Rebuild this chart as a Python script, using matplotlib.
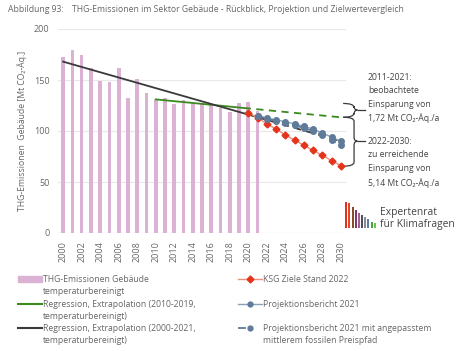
import numpy as np
import matplotlib.pyplot as plt
from matplotlib.path import Path
from matplotlib.patches import PathPatch, Rectangle
from matplotlib.lines import Line2D
import matplotlib.transforms as mtransforms

plt.rcParams['font.family'] = ['Open Sans', 'DejaVu Sans']

# data
years = np.arange(2000, 2022)
emissions = [173, 179, 175, 162, 149, 148, 162, 132, 151, 137, 130,
             132, 126, 130, 127, 127, 126, 123, 119, 127, 128, 120]

reg_green_x = [2010, 2019.5]
reg_green_y = [131, 122.6]
reg_green_ext_x = [2019.5, 2030]
reg_green_ext_y = [122.6, 113.4]

reg_black_x = [2000, 2021]
reg_black_y = [168, 113.5]
reg_black_ext_x = [2021, 2030]
reg_black_ext_y = [113.5, 90]

ksg_years = np.arange(2020, 2031)
ksg = [118, 113, 107, 102, 96, 91, 86, 81, 76, 71, 66]

proj_years = np.arange(2021, 2031)
proj = [115, 112.5, 111, 109, 107, 104.5, 102, 98, 94, 90]
proj_adj = [115, 112, 110, 108, 105.5, 103, 100, 96, 91, 86]

yticks = [0, 50, 100, 150, 200]
xticks = np.arange(2000, 2031, 2)

logo_heights = [1.0, 0.97, 0.8, 0.68, 0.58, 0.5, 0.42, 0.34, 0.24, 0.2]
logo_colors = ['#e2321f', '#e0472a', '#8a4a2c', '#7b3a6a', '#a25a9b',
               '#505050', '#7f8fa3', '#5f7f9e', '#4aa53a', '#6cc24a']

c_bar = '#dbb2d3'
c_green = '#3b8a1f'
c_black = '#3a3a3a'
c_red = '#e5341c'
c_red_line = '#f0907a'
c_blue = '#5f7b99'
c_blue_line = '#8aa0b8'
c_text = '#666666'
fs = 6.2

fig = plt.figure(figsize=(4.64, 3.51), dpi=100)
ax = fig.add_axes([58 / 464, 1 - 233 / 351, 288 / 464, 204 / 351])

ax.bar(years, emissions, width=0.4, color=c_bar, zorder=2)
ax.plot(reg_green_x, reg_green_y, color=c_green, lw=1.3, zorder=3)
ax.plot(reg_green_ext_x, reg_green_ext_y, color=c_green, lw=1.3, ls=(0, (4, 3)), zorder=3)
ax.plot(reg_black_x, reg_black_y, color=c_black, lw=1.3, zorder=3)
ax.plot(reg_black_ext_x, reg_black_ext_y, color=c_black, lw=1.3, ls=(0, (4, 3)), zorder=3)
ax.plot(ksg_years, ksg, color=c_red_line, lw=1, marker='D', ms=3.5,
        mfc=c_red, mec=c_red, zorder=4)
ax.plot(proj_years, proj, color=c_blue_line, lw=1, marker='o', ms=4,
        mfc=c_blue, mec=c_blue, zorder=4)
ax.plot(proj_years, proj_adj, color=c_blue, lw=1.3, ls=(0, (4, 3)), marker='o', ms=4,
        mfc=c_blue, mec=c_blue, zorder=4)

ax.set_xlim(1999.45, 2030.55)
ax.set_ylim(0, 200)
ax.set_yticks(yticks)
ax.set_xticks(xticks)
ax.set_xticklabels([str(x) for x in xticks], rotation=90)
ax.tick_params(colors=c_text, labelsize=fs + 0.3, length=0, pad=6)
ax.grid(axis='y', color='#e8e8e8', lw=0.8, zorder=0)
for s in ax.spines.values():
    s.set_visible(False)
ax.axhline(0, color='#e0e0e0', lw=0.8, zorder=1)
ax.set_ylabel('THG-Emissionen  Gebäude [Mt CO₂-Äq.]', color=c_text, fontsize=fs, labelpad=5)

# braces on the right
trans = mtransforms.blended_transform_factory(ax.transAxes, ax.transData)


def brace(ytop, ybot, ymid):
    x0, x1, x2, x3 = 0.99, 1.028, 1.04, 1.066
    r = 4
    verts = [(x0, ytop), (x1, ytop), (x1, ytop - r),
             (x1, ymid + r), (x1, ymid), (x2, ymid),
             (x1, ymid), (x1, ymid - r),
             (x1, ybot + r), (x1, ybot), (x0, ybot)]
    codes = [Path.MOVETO, Path.CURVE3, Path.CURVE3,
             Path.LINETO, Path.CURVE3, Path.CURVE3,
             Path.CURVE3, Path.CURVE3,
             Path.LINETO, Path.CURVE3, Path.CURVE3]
    ax.add_patch(PathPatch(Path(verts, codes), transform=trans, fill=False,
                           ec=c_black, lw=0.9, clip_on=False))
    ax.plot([x2, x3], [ymid, ymid], transform=trans, color=c_black, lw=0.9, clip_on=False)


brace(127, 113.5, 120.5)
brace(113.5, 65.5, 90)

ax.text(1.076, 157, '2011-2021:\nbeobachtete\nEinsparung von\n1,72 Mt CO₂-Äq./a',
        transform=trans, fontsize=fs, color='#444444', va='top', linespacing=1.62)
ax.text(1.076, 94, '2022-2030:\nzu erreichende\nEinsparung von\n5,14 Mt CO₂-Äq./a',
        transform=trans, fontsize=fs, color='#444444', va='top', linespacing=1.62)

# title
fig.text(8 / 464, 1 - 9 / 351, 'Abbildung 93:', fontsize=fs, color=c_text, va='center')
fig.text(72 / 464, 1 - 9 / 351, 'THG-Emissionen im Sektor Gebäude - Rückblick, Projektion und Zielwertevergleich',
         fontsize=fs, color=c_text, va='center')

# logo
lax = fig.add_axes([345 / 464, 1 - 228 / 351, 31 / 464, 26 / 351])
lax.bar(np.arange(len(logo_heights)), logo_heights, width=0.65, color=logo_colors)
lax.set_xlim(-0.4, len(logo_heights) - 0.6)
lax.set_ylim(0, 1)
lax.axis('off')
fig.text(380 / 464, 1 - 213 / 351, 'Expertenrat', fontsize=7.4, color='#444444', va='center')
fig.text(380 / 464, 1 - 225 / 351, 'für Klimafragen', fontsize=7.4, color='#444444', va='center')

# legend
blank = Line2D([], [], ls='none')
left_handles = [Rectangle((0, 0), 1, 1, color=c_bar), blank,
                Line2D([], [], color=c_green, lw=1.5), blank,
                Line2D([], [], color=c_black, lw=1.5), blank]
left_labels = ['THG-Emissionen Gebäude', 'temperaturbereinigt',
               'Regression, Extrapolation (2010-2019,', 'temperaturbereinigt)',
               'Regression, Extrapolation (2000-2021,', 'temperaturbereinigt)']
right_handles = [Line2D([], [], color=c_red_line, lw=1, marker='D', ms=3.5, mfc=c_red, mec=c_red), blank,
                 Line2D([], [], color=c_blue_line, lw=1, marker='o', ms=3.5, mfc=c_blue, mec=c_blue), blank,
                 Line2D([], [], color=c_blue, lw=1.3, ls=(0, (4.4, 9.6)), marker='o', ms=3.5,
                        mfc=c_blue, mec=c_blue), blank]
right_labels = ['KSG Ziele Stand 2022', '', 'Projektionsbericht 2021', '',
                'Projektionsbericht 2021 mit angepasstem', 'mittlerem fossilen Preispfad']
for h, l, x in [(left_handles, left_labels, 18), (right_handles, right_labels, 238)]:
    leg = fig.legend(h, l, loc='upper left', bbox_to_anchor=(x / 464, 1 - 275 / 351),
                     frameon=False, fontsize=fs, borderpad=0, borderaxespad=0,
                     handlelength=2.8, handletextpad=0.15, labelspacing=0.38,
                     labelcolor=c_text)

fig.savefig('out.png', dpi=100)
